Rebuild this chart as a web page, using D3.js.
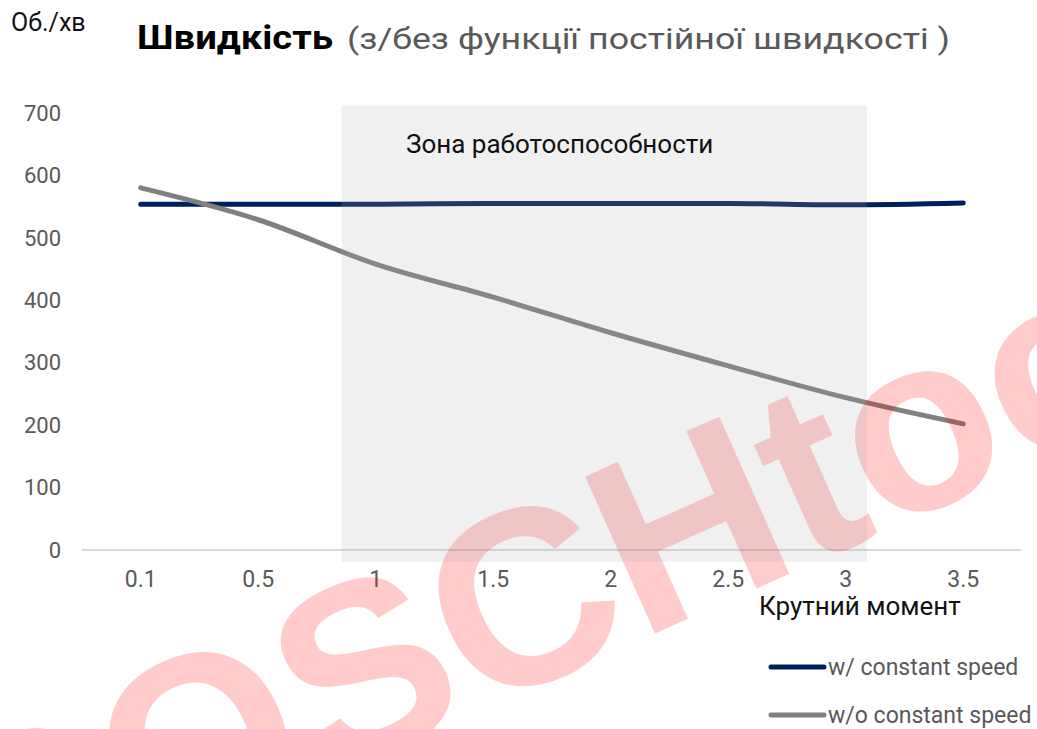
<!DOCTYPE html>
<html>
<head>
<meta charset="utf-8">
<script src="https://cdn.jsdelivr.net/npm/d3@7"></script>
<style>
  body { margin: 0; background: #fff; }
  text { font-family: Roboto, "Noto Sans", sans-serif; }
</style>
</head>
<body>
<div id="chart"></div>
<script>
// data
const torque = ["0.1", "0.5", "1", "1.5", "2", "2.5", "3", "3.5"];
const withConst = [554, 554, 554, 555, 555, 555, 553, 556];
const withoutConst = [580, 529, 458, 405, 348, 295, 244, 202];
const yTicks = [0, 100, 200, 300, 400, 500, 600, 700];
const seriesNames = ["w/ constant speed", "w/o constant speed"];
const seriesColors = ["#00205b", "#808080"];
// working zone, in category index units and axis units
const zoneIdx = [1.71, 6.18];
const zoneVal = [-19, 712];

let width = 1037, height = 729;

let svg = d3.select("#chart")
  .append("svg")
  .attr("width", width)
  .attr("height", height);

let x = d3.scaleBand().domain(torque).range([82, 1022]);
let y = d3.scaleLinear().domain([0, 700]).range([550, 113]);
let xc = d => x(d) + x.bandwidth() / 2;
// category index -> pixel
let xi = d3.scaleLinear().domain([0, 1]).range([xc(torque[0]), xc(torque[1])]);

// y tick labels
svg.append("g")
  .selectAll("text")
  .data(yTicks)
  .join("text")
  .attr("x", 61)
  .attr("y", d => y(d))
  .attr("dy", "0.35em")
  .attr("text-anchor", "end")
  .style("font-size", "22px")
  .style("fill", "#595959")
  .text(d => d);

// x axis line
svg.append("line")
  .attr("x1", 82).attr("x2", 1021)
  .attr("y1", y(0)).attr("y2", y(0))
  .style("stroke", "#d9d9d9")
  .style("stroke-width", 2);

// x tick labels
svg.append("g")
  .selectAll("text")
  .data(torque)
  .join("text")
  .attr("x", d => xc(d))
  .attr("y", 587)
  .attr("text-anchor", "middle")
  .style("font-size", "23px")
  .style("fill", "#595959")
  .text(d => d);

// lines
let line = d3.line()
  .x((d, i) => xc(torque[i]))
  .y(d => y(d))
  .curve(d3.curveMonotoneX);

[withConst, withoutConst].forEach((s, k) => {
  svg.append("path")
    .datum(s)
    .attr("d", line)
    .style("fill", "none")
    .style("stroke", seriesColors[k])
    .style("stroke-width", 5)
    .style("stroke-linecap", "round");
});

// watermark
svg.append("text")
  .attr("transform", "translate(-20,934) rotate(-24)")
  .style("font-family", "'Liberation Sans', Arial, sans-serif")
  .style("font-weight", "bold")
  .style("font-size", "250px")
  .style("fill", "red")
  .style("opacity", 0.2)
  .text("BOSCHtool");

// working zone overlay
svg.append("rect")
  .attr("x", xi(zoneIdx[0]))
  .attr("width", xi(zoneIdx[1]) - xi(zoneIdx[0]))
  .attr("y", y(zoneVal[1]))
  .attr("height", y(zoneVal[0]) - y(zoneVal[1]))
  .style("fill", "#aaaaaa")
  .style("opacity", 0.176);

svg.append("text")
  .attr("x", 406)
  .attr("y", 153)
  .style("font-size", "26px")
  .style("fill", "#111")
  .text("Зона работоспособности");

// title: glyphs in the picture are a bit wider than Roboto, so stretch horizontally
function wideText(str, x0, y0, w, size, weight, color) {
  let t = svg.append("text")
    .style("font-size", size + "px")
    .style("font-weight", weight)
    .style("fill", color)
    .text(str);
  let sx = w / t.node().getComputedTextLength();
  t.attr("transform", `translate(${x0},${y0}) scale(${sx},1)`);
}
wideText("Швидкість", 137, 49, 196, 33, "bold", "#000");
wideText("(з/без функції постійної швидкості )", 347, 49, 603, 29, "normal", "#595959");

// axis titles
svg.append("text")
  .attr("x", 11)
  .attr("y", 31)
  .style("font-size", "25px")
  .style("fill", "#111")
  .text("Об./хв");

svg.append("text")
  .attr("x", 759)
  .attr("y", 615)
  .style("font-size", "26px")
  .style("fill", "#111")
  .text("Крутний момент");

// legend
let legend = svg.append("g")
  .selectAll("g")
  .data(seriesNames)
  .join("g")
  .attr("transform", (d, i) => `translate(771, ${667 + i * 48})`);

legend.append("line")
  .attr("x1", 0).attr("x2", 53)
  .style("stroke", (d, i) => seriesColors[i])
  .style("stroke-width", 5)
  .style("stroke-linecap", "round");

legend.append("text")
  .attr("x", 57)
  .attr("dy", "0.35em")
  .style("font-size", "23px")
  .style("fill", "#595959")
  .text(d => d);
</script>
</body>
</html>
